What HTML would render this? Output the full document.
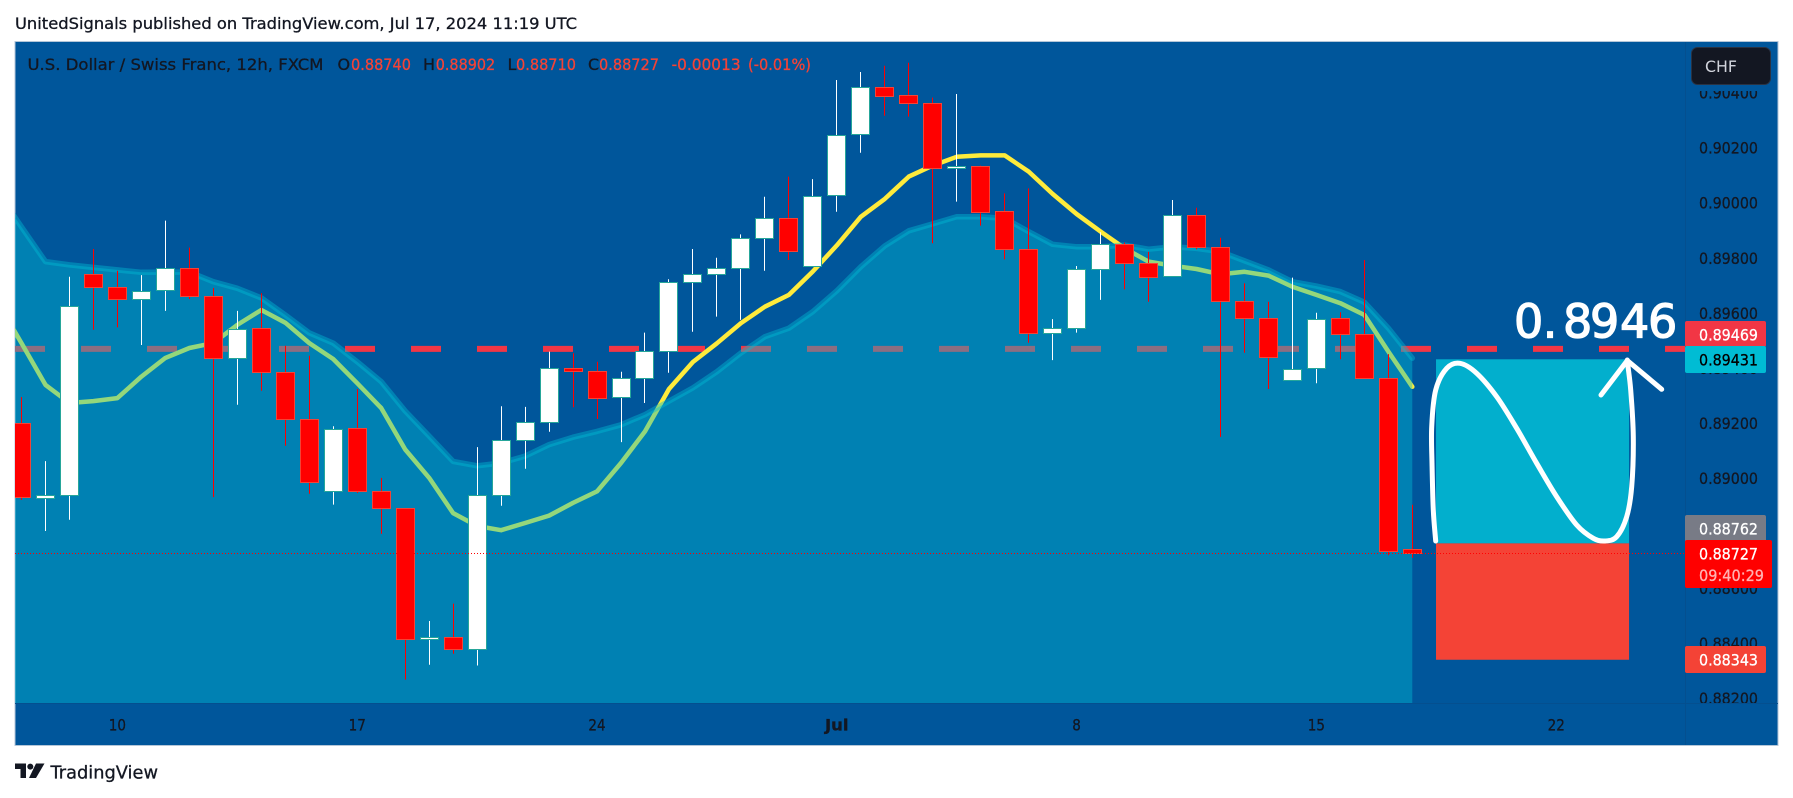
<!DOCTYPE html>
<html lang="en">
<head>
<meta charset="utf-8">
<title>USD/CHF 12h chart</title>
<style>
html,body{margin:0;padding:0;background:#fff;width:1793px;height:798px;overflow:hidden}
svg{display:block}
text{font-family:"DejaVu Sans","Liberation Sans",sans-serif;stroke-width:.3px}
</style>
</head>
<body>
<svg id="chart" xmlns="http://www.w3.org/2000/svg" width="1793" height="798" viewBox="0 0 1793 798">
  <defs>
    <clipPath id="plot-clip"><rect x="15" y="42" width="1670" height="661"/></clipPath>
    <clipPath id="axis-clip"><rect x="1686" y="42" width="91" height="661"/></clipPath>
  </defs>
  <text x="15" y="29" font-size="16" fill="#131722" stroke="#131722" textLength="562" lengthAdjust="spacingAndGlyphs">UnitedSignals published on TradingView.com, Jul 17, 2024 11:19 UTC</text>
  <rect x="15" y="41.5" width="1763" height="704" fill="#00569b" stroke="#b4c6d8" stroke-width="1"/>
  <g id="plot" clip-path="url(#plot-clip)"></g>
  <line x1="1685.5" y1="42" x2="1685.5" y2="745" stroke="#044f8f" stroke-width="1"/>
  <line x1="15" y1="703.5" x2="1778" y2="703.5" stroke="#044f8f" stroke-width="1"/>
  <g id="price-axis" clip-path="url(#axis-clip)"></g>
  <g id="time-axis"></g>

  <g font-size="16">
    <text x="27.5" y="70" fill="#131722" stroke="#131722" textLength="296" lengthAdjust="spacingAndGlyphs">U.S. Dollar / Swiss Franc, 12h, FXCM</text>
    <text x="337.5" y="70" fill="#131722" stroke="#131722">O</text>
    <text x="351" y="70" fill="#f44336" stroke="#f44336" textLength="60" lengthAdjust="spacingAndGlyphs">0.88740</text>
    <text x="423" y="70" fill="#131722" stroke="#131722">H</text>
    <text x="435.7" y="70" fill="#f44336" stroke="#f44336" textLength="59.5" lengthAdjust="spacingAndGlyphs">0.88902</text>
    <text x="507.5" y="70" fill="#131722" stroke="#131722">L</text>
    <text x="516" y="70" fill="#f44336" stroke="#f44336" textLength="60" lengthAdjust="spacingAndGlyphs">0.88710</text>
    <text x="588" y="70" fill="#131722" stroke="#131722">C</text>
    <text x="599" y="70" fill="#f44336" stroke="#f44336" textLength="60" lengthAdjust="spacingAndGlyphs">0.88727</text>
    <text x="671.6" y="70" fill="#f44336" stroke="#f44336" textLength="69" lengthAdjust="spacingAndGlyphs">-0.00013</text>
    <text x="748" y="70" fill="#f44336" stroke="#f44336" textLength="63" lengthAdjust="spacingAndGlyphs">(-0.01%)</text>
  </g>

  <g>
    <text x="1514 1542.7 1563 1590 1620 1648" y="337.5" font-size="46" style="stroke-width:1.3px" fill="#fff" stroke="#fff">0.8946</text>
    <path d="M1435.7 541 C1434.9 531 1433.9 523 1433.3 510 S1432.3 477.2 1432 463.3 S1431.1 438.9 1431.7 426.7 S1433.2 399.7 1435.7 390 S1442.6 372.8 1446.7 368.3 S1455 362.5 1460 363.3 S1470.6 367.7 1476.7 373.3 S1490 387.5 1496.7 396.7 S1510 417.2 1516.7 428.3 S1530 451.9 1536.7 463.3 S1550 486.4 1556.7 496.7 S1570.6 518.1 1576.7 525 S1588.6 535.6 1593.3 538.3 S1601.1 541.3 1605 541 S1613.1 540.7 1616.7 536.7 S1624.2 525 1626.7 516.7 S1630.6 500 1631.7 486.7 S1633.5 452.8 1633.3 436.7 S1631.7 402.8 1630.7 390 S1628.5 372 1627.3 360" fill="none" stroke="#fff" stroke-width="5" stroke-linecap="round" stroke-linejoin="round"/>
    <path d="M1601 395 L1627.3 360.5 L1661.7 389.3" fill="none" stroke="#fff" stroke-width="5" stroke-linecap="round" stroke-linejoin="round"/>
  </g>

  <g>
    <path d="M15 763.5 H26 V778 H20.5 V769 H15 Z" fill="#131722"/>
    <circle cx="30.3" cy="766.6" r="3" fill="#131722"/>
    <path d="M36 763.5 H44.5 L36 778 H29 Z" fill="#131722"/>
    <text x="50.5" y="778.7" font-size="18" fill="#131722" stroke="#131722" textLength="107.5" lengthAdjust="spacingAndGlyphs">TradingView</text>
  </g>
</svg>
<script>
var opens  = [.89200,.88927,.88938,.89742,.89693,.89650,.89683,.89762,.89660,.89435,.89544,.89384,.89213,.88951,.89180,.88951,.88890,.88415,.88421,.88377,.88939,.89137,.89202,.89400,.89390,.89293,.89362,.89462,.89713,.89742,.89764,.89873,.89946,.89770,.90028,.90249,.90422,.90390,.90361,.90125,.90132,.89969,.89831,.89526,.89546,.89760,.89851,.89780,.89733,.89957,.89840,.89642,.89580,.89356,.89399,.89580,.89522,.89362,.88740];
var highs  = [.89294,.89061,.89731,.89832,.89753,.89737,.89935,.89837,.89690,.89607,.89671,.89480,.89444,.89188,.89323,.89000,.88890,.88480,.88543,.89112,.89260,.89258,.89459,.89453,.89422,.89386,.89528,.89722,.89832,.89800,.89885,.90022,.90095,.90086,.90446,.90475,.90498,.90509,.90382,.90395,.90135,.90034,.90052,.89577,.89770,.89893,.89855,.89822,.90010,.89982,.89873,.89707,.89640,.89728,.89600,.89602,.89792,.89450,.88902];
var lows   = [.88920,.88807,.88848,.89538,.89547,.89483,.89607,.89650,.88930,.89266,.89317,.89117,.88942,.88903,.88945,.88797,.88267,.88321,.88361,.88318,.88899,.89033,.89168,.89257,.89214,.89130,.89272,.89382,.89531,.89586,.89574,.89753,.89792,.89770,.89967,.90182,.90316,.90313,.89853,.90004,.89917,.89794,.89491,.89428,.89528,.89647,.89685,.89640,.89733,.89831,.89149,.89455,.89323,.89356,.89344,.89431,.89362,.88719,.88710];
var closes = [.88931,.88936,.89626,.89693,.89650,.89680,.89762,.89660,.89435,.89542,.89384,.89213,.88984,.89179,.88951,.88890,.88414,.88421,.88377,.88939,.89137,.89202,.89400,.89390,.89291,.89362,.89462,.89713,.89742,.89764,.89873,.89946,.89825,.90026,.90247,.90422,.90389,.90361,.90125,.90132,.89967,.89831,.89526,.89546,.89760,.89851,.89780,.89731,.89957,.89840,.89642,.89580,.89438,.89397,.89579,.89522,.89362,.88735,.88727];
// Indicator series start one bar before the first visible candle.
var upperBand = [.90039,.89912,.89786,.89774,.89765,.89756,.89747,.89748,.89748,.89713,.89689,.89654,.89592,.89527,.89490,.89422,.89350,.89243,.89152,.89060,.89044,.89054,.89079,.89121,.89148,.89169,.89193,.89230,.89279,.89327,.89386,.89454,.89513,.89544,.89604,.89680,.89767,.89843,.89898,.89923,.89949,.89949,.89943,.89895,.89849,.89840,.89840,.89846,.89831,.89840,.89834,.89822,.89789,.89756,.89713,.89697,.89677,.89638,.89544,.89435];
var movingAverage = [.89639,.89490,.89338,.89272,.89279,.89290,.89368,.89436,.89472,.89490,.89556,.89610,.89564,.89490,.89432,.89344,.89254,.89103,.89000,.88872,.88825,.88810,.88836,.88863,.88909,.88951,.89054,.89169,.89323,.89421,.89489,.89562,.89622,.89665,.89750,.89845,.89949,.90014,.90095,.90135,.90167,.90172,.90172,.90113,.90032,.89959,.89895,.89834,.89786,.89771,.89759,.89740,.89749,.89735,.89695,.89665,.89635,.89592,.89459,.89331];
var priceTickLabels = ['0.90400','0.90200','0.90000','0.89800','0.89600','0.89400','0.89200','0.89000','0.88800','0.88600','0.88400','0.88200'];
var timeTickBars = [4,14,24,34,44,54,64];
var timeTickLabels = ['10','17','24','Jul','8','15','22'];
var highlightPrice = 0.89469;
var lastClose = 0.88727;
var targetPrice = 0.89431;
var entryPrice = 0.88762;
var stopPrice = 0.88339;
var projectionBars = [59,67];

var NS = 'http://www.w3.org/2000/svg';
function xAt(i){ return 21.5 + i * 23.98; }
function yAt(p){ return 147.7 + (0.902 - p) * 27515; }
function mk(parent, tag, attrs, txt){
  var el = document.createElementNS(NS, tag);
  for (var k in attrs) el.setAttribute(k, attrs[k]);
  if (txt !== undefined) el.textContent = txt;
  parent.appendChild(el);
  return el;
}
var plot = document.getElementById('plot');
var PLOT_BOTTOM = 703;

// dashed horizontal level (sits under the translucent area)
var dash = mk(plot, 'line', {x1:15, x2:1685, y1:yAt(highlightPrice), y2:yAt(highlightPrice), stroke:'#f23645', 'stroke-width':6, 'stroke-dasharray':'30 36'});



// moving average
var maD = movingAverage.map(function(v, k){ return (k ? 'L' : 'M') + xAt(k - 1).toFixed(1) + ' ' + yAt(v).toFixed(1); }).join(' ');
var ma = mk(plot, 'path', {d:maD, fill:'none', stroke:'#ffeb3b', 'stroke-width':4.5, 'stroke-linejoin':'round', 'stroke-linecap':'round'});



// band area
var upD = upperBand.map(function(v, k){ return (k ? 'L' : 'M') + xAt(k - 1).toFixed(1) + ' ' + yAt(v).toFixed(1); }).join(' ');
var area = mk(plot, 'path', {d:upD + ' L' + xAt(upperBand.length - 2).toFixed(1) + ' ' + PLOT_BOTTOM + ' L' + xAt(-1).toFixed(1) + ' ' + PLOT_BOTTOM + ' Z', fill:'#00bcd4', 'fill-opacity':0.42});


var edge = mk(plot, 'path', {d:upD, fill:'none', stroke:'#00bcd4', 'stroke-opacity':0.42, 'stroke-width':5.5, 'stroke-linejoin':'round', 'stroke-linecap':'round'});



// candles
opens.forEach(function(o, i){
  var c = closes[i], up = c >= o;
  var cx = Math.floor(xAt(i)) + 0.5;
  var g = mk(plot, 'g', {});
  
  
  var wick = mk(g, 'line', {x1:cx, x2:cx, y1:yAt(highs[i]).toFixed(1), y2:yAt(lows[i]).toFixed(1), stroke: up ? '#ffffff' : '#ff0000', 'stroke-width':1});
  
  
  var top = Math.round(yAt(Math.max(o, c))) + 0.5, bot = Math.round(yAt(Math.min(o, c))) + 0.5;
  var body = mk(g, 'rect', {x:cx - 9, y:top, width:18, height:Math.max(bot - top, 1), fill: up ? '#ffffff' : '#ff0000', stroke: up ? '#26a69a' : '#f44336', 'stroke-width':1});
  
  
});

// long position tool
var boxX = xAt(projectionBars[0]) - 0.3, boxW = xAt(projectionBars[1]) - xAt(projectionBars[0]) + 1.2;
var profit = mk(plot, 'rect', {x:boxX, y:yAt(targetPrice), width:boxW, height:yAt(entryPrice) - yAt(targetPrice), fill:'#02afcd'});


var loss = mk(plot, 'rect', {x:boxX, y:yAt(entryPrice), width:boxW, height:yAt(stopPrice) - yAt(entryPrice), fill:'#f44336'});



// last price dotted line
var dotted = mk(plot, 'line', {x1:15, x2:1685, y1:Math.round(yAt(lastClose)) + 0.5, y2:Math.round(yAt(lastClose)) + 0.5, stroke:'#ff0000', 'stroke-width':1, 'stroke-dasharray':'1 2'});



// price axis
var axis = document.getElementById('price-axis');
priceTickLabels.forEach(function(t){
  var lbl = mk(axis, 'text', {x:1699, y:(yAt(parseFloat(t)) + 6).toFixed(1), 'font-size':16, fill:'#131722', stroke:'#131722', textLength:59, lengthAdjust:'spacingAndGlyphs'}, t);
  
  
});
var axisCover = mk(axis, 'rect', {x:1686, y:42, width:91, height:49, fill:'#00569b'});



// price tags
var tags = document.createElementNS(NS, 'g');


document.getElementById('chart').insertBefore(tags, document.getElementById('time-axis'));
function tag(name, y, h, w, fill, txt, txtFill){
  var r = mk(tags, 'rect', {x:1685, y:y, width:w, height:h, rx:2, fill:fill});
  
  
  var t = mk(tags, 'text', {x:1699, y:y + 19.5, 'font-size':16, fill:txtFill, stroke:txtFill, textLength:59, lengthAdjust:'spacingAndGlyphs'}, txt);
  
  
}
tag('key-level', 321, 26, 81, '#f23645', highlightPrice.toFixed(5), '#ffffff');
tag('target', 346, 27, 81, '#00bcd4', targetPrice.toFixed(5), '#000000');
tag('entry', 515, 27, 81, '#787b86', entryPrice.toFixed(5), '#ffffff');
tag('stop', 646, 27, 81, '#f44336', '0.88343', '#ffffff');
tag('last-price', 540, 48, 87, '#ff0000', lastClose.toFixed(5), '#ffffff');
var cd = mk(tags, 'text', {x:1699, y:581, 'font-size':16, fill:'#ffb3b3', stroke:'#ffb3b3', textLength:65, lengthAdjust:'spacingAndGlyphs'}, '09:40:29');



// currency badge (drawn above the axis)
var badgeBox = mk(document.getElementById('chart'), 'rect', {x:1691.5, y:47.5, width:79, height:37, rx:6, fill:'#131722', stroke:'#2a3242', 'stroke-width':1});


var badgeText = mk(document.getElementById('chart'), 'text', {x:1705, y:72, 'font-size':16, fill:'#d1d4dc', textLength:32, lengthAdjust:'spacingAndGlyphs'}, 'CHF');



// time axis
var tAxis = document.getElementById('time-axis');
timeTickBars.forEach(function(b, k){
  var s = timeTickLabels[k];
  var lbl = mk(tAxis, 'text', {x:xAt(b).toFixed(1), y:730.7, 'font-size':16, fill:'#131722', stroke:'#131722', 'font-weight':(s === 'Jul' ? 'bold' : 'normal'), 'text-anchor':'middle', textLength:(s === 'Jul' ? 23.5 : 8.6 * s.length), lengthAdjust:'spacingAndGlyphs'}, s);
  
  
});
</script>
</body>
</html>
